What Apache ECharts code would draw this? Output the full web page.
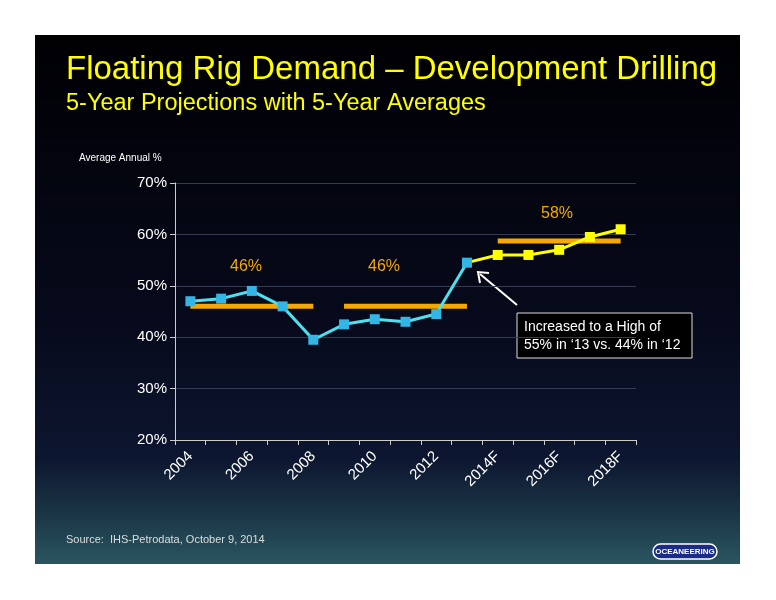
<!DOCTYPE html>
<html><head><meta charset="utf-8">
<script src="https://cdn.jsdelivr.net/npm/echarts@6/dist/echarts.min.js"></script>
<style>html,body{margin:0;background:#fff}#c{width:776px;height:600px}</style>
</head><body><div id="c"></div>
<script>
var years = ['2004','2005','2006','2007','2008','2009','2010','2011','2012','2013','2014F','2015F','2016F','2017F','2018F'];
var actual = [47, 47.5, 49, 46, 39.5, 42.5, 43.5, 43, 44.5, 54.5, null, null, null, null, null];
var projected = [null, null, null, null, null, null, null, null, null, 54.5, 56, 56, 57, 59.5, 61];
var avg1 = [46, 46, 46, 46, 46, null, null, null, null, null, null, null, null, null, null];
var avg2 = [null, null, null, null, null, 46, 46, 46, 46, 46, null, null, null, null, null];
var avg3 = [null, null, null, null, null, null, null, null, null, null, 58.7, 58.7, 58.7, 58.7, 58.7];
var shownLabels = ['2004','2006','2008','2010','2012','2014F','2016F','2018F'];

var chart = echarts.init(document.getElementById('c'));
var avgStyle = {type:'line', symbol:'none', lineStyle:{color:'#F5A800', width:5}, z:1, silent:true};
chart.setOption({
  backgroundColor: '#fff',
  graphic: [
    {type:'rect', shape:{x:35,y:35,width:705,height:529}, z:-10,
     style:{fill:new echarts.graphic.LinearGradient(0,0,0,1,[
       {offset:0,color:'#000003'},{offset:0.55,color:'#070a1c'},{offset:0.8,color:'#0d1630'},{offset:0.9,color:'#1a3444'},{offset:1,color:'#2a5560'}])}},
    {type:'text', left:66, top:53, style:{text:'Floating Rig Demand \u2013 Development Drilling', fill:'#ffff00', font:'33px Arial, "Liberation Sans"'}},
    {type:'text', left:66, top:92, style:{text:'5-Year Projections with 5-Year Averages', fill:'#ffff00', font:'23.5px Arial, "Liberation Sans"'}},
    {type:'text', left:79, top:153, style:{text:'Average Annual %', fill:'#ffffff', font:'10px Arial, "Liberation Sans"'}},
    {type:'text', left:230, top:259, style:{text:'46%', fill:'#F5A800', font:'16px Arial, "Liberation Sans"'}},
    {type:'text', left:368, top:259, style:{text:'46%', fill:'#F5A800', font:'16px Arial, "Liberation Sans"'}},
    {type:'text', left:541, top:206, style:{text:'58%', fill:'#F5A800', font:'16px Arial, "Liberation Sans"'}},
    {type:'rect', shape:{x:517,y:313,width:175,height:45}, style:{fill:'#000000', stroke:'#dddddd', lineWidth:1}},
    {type:'text', left:524, top:318, style:{text:'Increased to a High of\n55% in \u201813 vs. 44% in \u201812', fill:'#ffffff', font:'14px Arial, "Liberation Sans"', lineHeight:18}},
    {type:'line', shape:{x1:517,y1:305,x2:480,y2:274}, style:{stroke:'#ffffff', lineWidth:2}},
    {type:'polyline', shape:{points:[[480,283],[478,272],[489,273]]}, style:{stroke:'#ffffff', lineWidth:2, fill:null}},
    {type:'text', left:66, top:534, style:{text:'Source:  IHS-Petrodata, October 9, 2014', fill:'#dddddd', font:'11px Arial, "Liberation Sans"'}},
    {type:'rect', shape:{x:653,y:544,width:64,height:15,r:7.5}, style:{fill:'#1a2b8a', stroke:'#ffffff', lineWidth:1.5}},
    {type:'text', x:685, y:551.5, style:{text:'OCEANEERING', fill:'#ffffff', font:'bold 8px Arial, "Liberation Sans"', align:'center', verticalAlign:'middle'}}
  ],
  grid: {left:175, right:140, top:183, bottom:160},
  xAxis: {
    type:'category', data:years, boundaryGap:true,
    axisLine:{lineStyle:{color:'#cccccc'}},
    axisTick:{show:true, interval:0, lineStyle:{color:'#cccccc'}},
    axisLabel:{interval:0, rotate:45, margin:14, color:'#ffffff', fontSize:15, fontFamily:'Arial',
      formatter:function(v){return shownLabels.indexOf(v) >= 0 ? v : '';}}
  },
  yAxis: {
    type:'value', min:20, max:70, interval:10,
    axisLine:{show:true, lineStyle:{color:'#cccccc'}},
    axisTick:{show:true, lineStyle:{color:'#cccccc'}},
    splitLine:{lineStyle:{color:'#353a50'}},
    axisLabel:{color:'#ffffff', fontSize:15, fontFamily:'Arial', formatter:'{value}%'}
  },
  series: [
    Object.assign({data:avg1}, avgStyle),
    Object.assign({data:avg2}, avgStyle),
    Object.assign({data:avg3}, avgStyle),
    {type:'line', data:actual, symbol:'rect', symbolSize:10, z:3,
     lineStyle:{color:'#4fe0f0', width:3}, itemStyle:{color:'#33b5e5'}},
    {type:'line', data:projected.map(function(v,i){return i === 9 ? {value:v, symbolSize:0} : v;}),
     symbol:'rect', symbolSize:10, z:2,
     lineStyle:{color:'#ffff00', width:3}, itemStyle:{color:'#ffff00'}}
  ]
});
</script></body></html>
